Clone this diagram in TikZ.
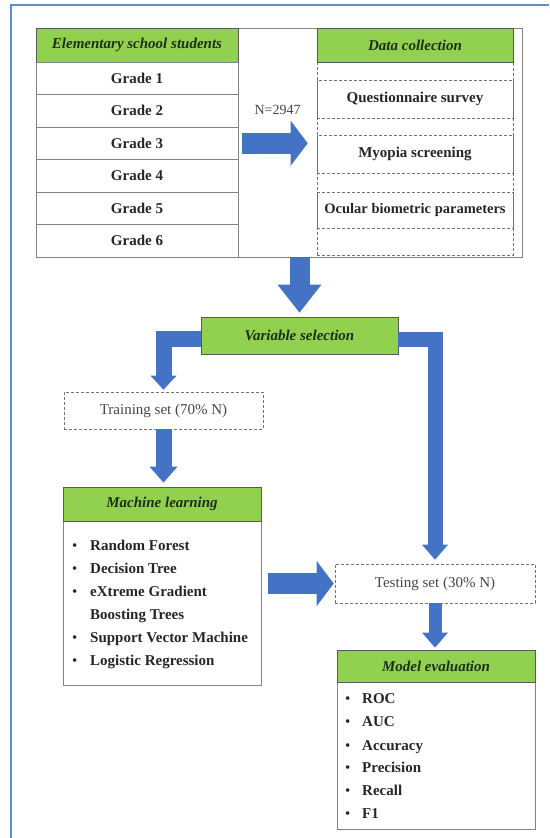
\documentclass[tikz,border=0pt]{standalone}
\usepackage{fontspec}
\setmainfont{Liberation Serif}
\usetikzlibrary{arrows.meta}
\definecolor{framebl}{RGB}{91,143,212}
\definecolor{arrowbl}{RGB}{68,114,196}
\definecolor{hdgreen}{RGB}{146,208,80}
\definecolor{hdtext}{RGB}{28,48,18}
\definecolor{linegray}{RGB}{130,130,130}
\definecolor{txtgray}{RGB}{70,70,70}
\tikzset{
  hdr/.style={draw=black!65, fill=hdgreen, line width=0.8pt, inner sep=0pt, text=hdtext, font=\fontsize{15}{18}\selectfont\bfseries\itshape},
  gradebox/.style={draw=linegray, line width=0.8pt, minimum width=202pt, minimum height=32.5pt, inner sep=0pt, text=black!85, font=\fontsize{15}{18}\selectfont\bfseries},
  dashbox/.style={draw=black!55, densely dashed, line width=0.6pt, inner sep=0pt},
  dataitem/.style={dashbox, minimum width=196pt, text=black!85, font=\fontsize{15}{18}\selectfont\bfseries},
  plainbox/.style={draw=linegray, line width=0.8pt, inner sep=0pt},
  itemtxt/.style={anchor=west, inner sep=0pt, text height=10pt, text depth=3pt, text=black!85, font=\fontsize{15}{18}\selectfont\bfseries},
  fat/.style n args={3}{draw=arrowbl, line width=#1, -{Triangle[width=#2, length=#3, line width=0pt]}}
}
\begin{document}
\begin{tikzpicture}[x=1pt, y=-1pt]
\useasboundingbox (0,0) rectangle (549,838);
\draw[framebl, line width=1.3pt] (11,838) -- (11,5) -- (549,5);
\node[plainbox, minimum width=486pt, minimum height=229pt] (top) at (279,142.5) {};
\node[hdr, minimum width=202pt, minimum height=34pt] (stuhead) at (137,45) {Elementary school students};
\foreach \i in {1,...,6}
  \node[gradebox] (g\i) at (137,{45.75+32.5*\i}) {Grade \i};
\node[dashbox, minimum width=196pt, minimum height=193pt] (datacol) at (415,158.5) {};
\node[hdr, minimum width=196pt, minimum height=34pt] (datahead) at (415,45) {Data collection};
\node[dataitem, minimum height=38pt] (quest) at (415,99) {Questionnaire survey};
\node[dataitem, minimum height=38pt] (myopia) at (415,154) {Myopia screening};
\node[dataitem, minimum height=36pt, font=\fontsize{14.5}{18}\selectfont\bfseries] (ocular) at (415,210) {Ocular biometric parameters};
\node[hdr, minimum width=197pt, minimum height=37pt] (var) at (299.5,335.5) {Variable selection};
\node[dashbox, minimum width=199pt, minimum height=37pt, text=txtgray, font=\fontsize{15}{18}\selectfont] (train) at (163.5,410.5) {Training set (70\% N)};
\node[plainbox, minimum width=198pt, minimum height=164pt] (mlbody) at (162,603) {};
\node[hdr, minimum width=198pt, minimum height=34pt] (mlhead) at (162,504) {Machine learning};
\foreach \y/\t in {547/Random Forest, 570/Decision Tree, 593/eXtreme Gradient, 639/Support Vector Machine, 662/Logistic Regression}
  \node[itemtxt] (ml\y) at (72,\y) {\makebox[18pt][l]{\mdseries\textbullet}\t};
\node[itemtxt] (ml616) at (90,616) {Boosting Trees};
\node[dashbox, minimum width=200pt, minimum height=39pt, text=txtgray, font=\fontsize{15}{18}\selectfont] (test) at (435,583.5) {Testing set (30\% N)};
\node[plainbox, minimum width=198pt, minimum height=147pt] (mebody) at (436,755.5) {};
\node[hdr, minimum width=198pt, minimum height=32pt] (mehead) at (436,666) {Model evaluation};
\foreach \y/\t in {700/ROC, 723/AUC, 747/Accuracy, 769/Precision, 792/Recall, 815/F1}
  \node[itemtxt] (me\y) at (345,\y) {\makebox[17pt][l]{\mdseries\textbullet}\t};
\draw[fat={21pt}{45pt}{17pt}, shorten <=4pt, shorten >=9pt] (g3.east) -- (g3.east -| datacol.west)
  node[midway, above=18pt, inner sep=0pt, text=txtgray, font=\fontsize{14}{16}\selectfont] (ncount) {N=2947};
\draw[fat={20pt}{44pt}{28pt}, shorten >=4pt] (var.north |- top.south) -- (var.north);
\draw[fat={16pt}{26pt}{14pt}, shorten >=2pt] ([yshift=-3.5pt]var.west) -| (train.north);
\draw[fat={15pt}{26pt}{15pt}, shorten >=4pt] ([yshift=-3.5pt]var.east) -| (test.north);
\draw[fat={16pt}{28pt}{16pt}, shorten >=4pt] (train.south) -- (train.south |- mlhead.north);
\draw[fat={21pt}{45pt}{17pt}, shorten <=7pt, shorten >=1pt] (mlbody.east |- test.west) -- (test.west);
\draw[fat={13pt}{26pt}{15pt}, shorten >=2pt] (test.south) -- (test.south |- mehead.north);
\end{tikzpicture}
\end{document}
